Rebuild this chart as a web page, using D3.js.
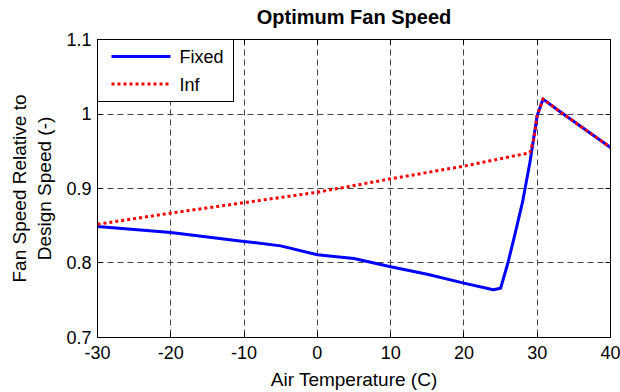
<!DOCTYPE html>
<html>
<head>
<meta charset="utf-8">
<script src="https://cdn.jsdelivr.net/npm/d3@7"></script>
<style>
  body { margin: 0; background: #fff; }
  text { font-family: "Liberation Sans", Arial, sans-serif; fill: #000; }
</style>
</head>
<body>
<div id="chart"></div>
<script>
// data
const fixedTemp = [-30, -20, -10, -5, 0, 5, 10, 15, 20, 24, 25, 26, 27, 28, 29, 30, 30.8, 33, 35, 40];
const fixedVal  = [0.849, 0.841, 0.829, 0.823, 0.811, 0.806, 0.795, 0.785, 0.773, 0.764, 0.766,
                   0.800, 0.840, 0.882, 0.935, 0.998, 1.020, 1.004, 0.990, 0.955];
const infTemp = [-30, -20, -10, 0, 10, 20, 29, 29.5, 30, 30.8, 33, 35, 40];
const infVal  = [0.852, 0.867, 0.881, 0.895, 0.913, 0.930, 0.948, 0.965, 0.998, 1.020, 1.004, 0.990, 0.955];
const xTicks = [-30, -20, -10, 0, 10, 20, 30, 40];
const yTicks = [0.7, 0.8, 0.9, 1.0, 1.1];
const seriesNames = ["Fixed", "Inf"];

// set the dimensions and margins of the graph
const margin = {top: 39, right: 10, bottom: 55, left: 97},
    width = 620 - margin.left - margin.right,
    height = 392 - margin.top - margin.bottom;

const svg = d3.select("#chart")
    .append("svg")
    .attr("width", 620)
    .attr("height", 392)
    .append("g")
    .attr("transform", `translate(${margin.left + 0.5}, ${margin.top + 0.5})`);

const x = d3.scaleLinear().domain([-30, 40]).range([0, width]);
const y = d3.scaleLinear().domain([0.7, 1.1]).range([height, 0]);

// grid (dashed)
svg.append("g")
    .selectAll("line")
    .data(xTicks)
    .join("line")
    .attr("x1", d => Math.round(x(d)))
    .attr("x2", d => Math.round(x(d)))
    .attr("y1", 0)
    .attr("y2", height)
    .attr("stroke", "#444")
    .attr("stroke-dasharray", "6,4");

svg.append("g")
    .selectAll("line")
    .data(yTicks)
    .join("line")
    .attr("x1", 0)
    .attr("x2", width)
    .attr("y1", d => Math.round(y(d)))
    .attr("y2", d => Math.round(y(d)))
    .attr("stroke", "#444")
    .attr("stroke-dasharray", "6,4");

// inward ticks on all four sides
const tick = 5;
xTicks.forEach(function(t) {
    const px = Math.round(x(t));
    svg.append("line").attr("x1", px).attr("x2", px).attr("y1", height).attr("y2", height - tick).attr("stroke", "#000");
    svg.append("line").attr("x1", px).attr("x2", px).attr("y1", 0).attr("y2", tick).attr("stroke", "#000");
});
yTicks.forEach(function(t) {
    const py = Math.round(y(t));
    svg.append("line").attr("x1", 0).attr("x2", tick).attr("y1", py).attr("y2", py).attr("stroke", "#000");
    svg.append("line").attr("x1", width).attr("x2", width - tick).attr("y1", py).attr("y2", py).attr("stroke", "#000");
});

// tick labels
svg.append("g")
    .selectAll("text")
    .data(xTicks)
    .join("text")
    .attr("x", d => x(d))
    .attr("y", height + 21)
    .attr("text-anchor", "middle")
    .style("font-size", "18px")
    .text(d => d);

svg.append("g")
    .selectAll("text")
    .data(yTicks)
    .join("text")
    .attr("x", -6)
    .attr("y", d => y(d))
    .attr("dy", "0.36em")
    .attr("text-anchor", "end")
    .style("font-size", "18px")
    .text(d => d === 1 ? "1" : d3.format(".1f")(d));

// clip for the lines
svg.append("defs").append("clipPath")
    .attr("id", "clip")
    .append("rect")
    .attr("width", width)
    .attr("height", height);

const line = d3.line()
    .x(d => x(d[0]))
    .y(d => y(d[1]));

const plot = svg.append("g").attr("clip-path", "url(#clip)");

plot.append("path")
    .datum(fixedTemp.map((t, i) => [t, fixedVal[i]]))
    .attr("fill", "none")
    .attr("stroke", "#0000ff")
    .attr("stroke-width", 3)
    .attr("stroke-linejoin", "round")
    .attr("d", line);

plot.append("path")
    .datum(infTemp.map((t, i) => [t, infVal[i]]))
    .attr("fill", "none")
    .attr("stroke", "#ff0000")
    .attr("stroke-width", 3)
    .attr("stroke-dasharray", "3,3")
    .attr("d", line);

// box
svg.append("rect")
    .attr("width", width)
    .attr("height", height)
    .attr("fill", "none")
    .attr("stroke", "#000");

// title
svg.append("text")
    .attr("x", width / 2)
    .attr("y", -16)
    .attr("text-anchor", "middle")
    .style("font-size", "20px")
    .style("font-weight", "bold")
    .text("Optimum Fan Speed");

// x axis label
svg.append("text")
    .attr("x", width / 2)
    .attr("y", height + 48)
    .attr("text-anchor", "middle")
    .style("font-size", "19px")
    .text("Air Temperature (C)");

// y axis label (two lines)
const yLabel = svg.append("text")
    .attr("transform", `translate(-72, ${height / 2}) rotate(-90)`)
    .attr("text-anchor", "middle")
    .style("font-size", "19px");
yLabel.append("tspan").attr("x", 0).attr("y", 0).text("Fan Speed Relative to");
yLabel.append("tspan").attr("x", 0).attr("y", 25).text("Design Speed (-)");

// legend
const legend = svg.append("g");
legend.append("rect")
    .attr("width", 136)
    .attr("height", 62)
    .attr("fill", "#fff")
    .attr("stroke", "#000");

const legendStyles = [
    {color: "#0000ff", dash: null},
    {color: "#ff0000", dash: "3,3"}
];
seriesNames.forEach(function(name, i) {
    const ly = 17 + i * 27.5;
    legend.append("line")
        .attr("x1", 14)
        .attr("x2", 73)
        .attr("y1", ly)
        .attr("y2", ly)
        .attr("stroke", legendStyles[i].color)
        .attr("stroke-width", 3)
        .attr("stroke-dasharray", legendStyles[i].dash);
    legend.append("text")
        .attr("x", 82)
        .attr("y", ly + 6.5)
        .style("font-size", "18px")
        .text(name);
});
</script>
</body>
</html>
